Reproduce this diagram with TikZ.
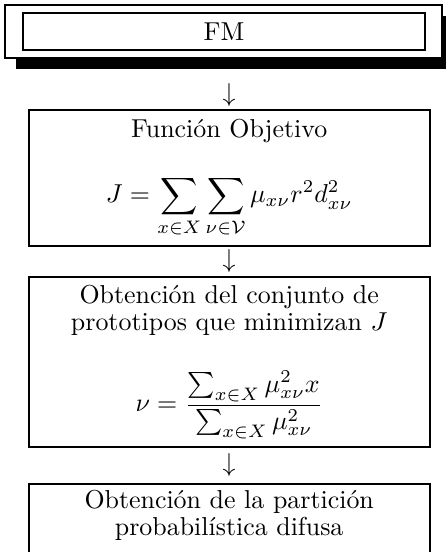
\documentclass[tikz,border=0pt]{standalone}
\usetikzlibrary{shadows}
\begin{document}
\begin{tikzpicture}[
    frame/.style={draw, line width=0.8pt},
    box/.style={frame, minimum width=154.8pt, text width=148pt, inner xsep=3pt, align=center, font=\fontsize{10}{10.3}\selectfont},
    ]

    \clip (0,0) rectangle (6.05,-7.49);

    \node[frame, fill=white, minimum width=168.7pt, minimum height=20.5pt,
        drop shadow={shadow xshift=4.25pt, shadow yshift=-4.25pt, fill=black, opacity=1}] (fmframe) at (3.03,-0.43) {};
    \node[frame, minimum width=155.2pt, minimum height=14.3pt] (fm) at (3.04,-0.43) {FM};

    \node (arr1) at (3.11,-1.29) {$\downarrow$};
    \node[box, minimum height=51.4pt] (obj) at (3.11,-2.42)
        {Funci\'on Objetivo\\[11.8pt]
        \mbox{$\displaystyle J=\sum_{x\in X}\sum_{\nu\in\mathcal{V}}\mu_{x\nu}r^2d^2_{x\nu}$}};

    \node (arr2) at (3.11,-3.54) {$\downarrow$};
    \node[box, minimum height=65.6pt] (proto) at (3.11,-4.91)
        {Obtenci\'on del conjunto de\\prototipos que minimizan $J$\\[12.9pt]
        \mbox{$\displaystyle\nu=\frac{\sum_{x\in X}\mu^2_{x\nu}x}{\sum_{x\in X}\mu^2_{x\nu}}$}};

    \node (arr3) at (3.11,-6.31) {$\downarrow$};
    \node[box, anchor=north, inner ysep=2.5pt, text depth=24pt] (part) at (3.11,-6.55)
        {Obtenci\'on de la partici\'on\\probabil\'{\i}stica difusa};
\end{tikzpicture}
\end{document}
